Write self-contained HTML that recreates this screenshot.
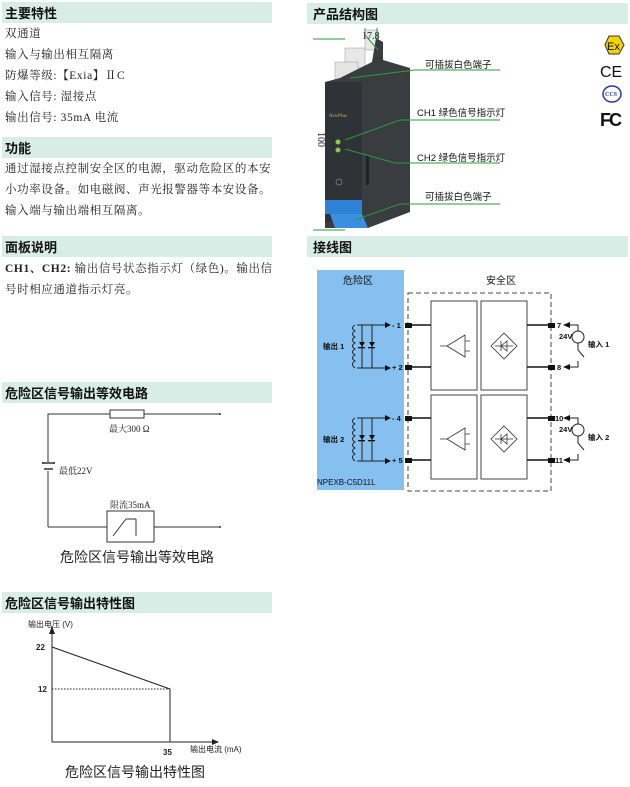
<!DOCTYPE html>
<html><head><meta charset="utf-8"><style>
html,body{margin:0;padding:0;background:#fff;width:630px;height:787px;overflow:hidden}
svg{display:block}
text{font-family:"Liberation Serif","Noto Serif CJK SC",serif;fill:#222}
text.h{font-family:"Liberation Serif","Noto Sans CJK SC",sans-serif;font-weight:bold;font-size:13px;fill:#111}
text.t{font-size:11.5px;letter-spacing:0.6px}
text.s{font-family:"Liberation Sans","Noto Sans CJK SC",sans-serif;font-size:8px;font-weight:bold;fill:#222}
text.c{font-family:"Liberation Sans","Noto Sans CJK SC",sans-serif;font-size:14px;fill:#222}
text.p{font-family:"Liberation Sans","Noto Sans CJK SC",sans-serif;font-size:9.5px;fill:#111}
text.z{font-family:"Liberation Sans","Noto Sans CJK SC",sans-serif;font-size:10px;fill:#111}
text.w{font-family:"Liberation Sans","Noto Sans CJK SC",sans-serif;font-size:7.5px;font-weight:bold;fill:#111}
text.n{font-family:"Liberation Sans",sans-serif;font-size:8px;fill:#111}
</style></head><body>
<svg width="630" height="787" viewBox="0 0 630 787" xmlns="http://www.w3.org/2000/svg">
<g fill="#d9ede7">
<rect x="2" y="2" width="270" height="21"/>
<rect x="2" y="137" width="270" height="21"/>
<rect x="2" y="236" width="270" height="21"/>
<rect x="2" y="382" width="270" height="21"/>
<rect x="2" y="592" width="270" height="21"/>
<rect x="307" y="3" width="321" height="21"/>
<rect x="307" y="236" width="321" height="21"/>
</g>
<text class="h" x="5" y="18">主要特性</text>
<text class="h" x="5" y="153">功能</text>
<text class="h" x="5" y="252">面板说明</text>
<text class="h" x="5" y="398">危险区信号输出等效电路</text>
<text class="h" x="5" y="608">危险区信号输出特性图</text>
<text class="h" x="313" y="19">产品结构图</text>
<text class="h" x="313" y="252">接线图</text>

<text class="t" x="5" y="37">双通道</text>
<text class="t" x="5" y="58">输入与输出相互隔离</text>
<text class="t" x="5" y="79">防爆等级:【Exia】ⅡC</text>
<text class="t" x="5" y="100">输入信号: 湿接点</text>
<text class="t" x="5" y="121">输出信号: 35mA 电流</text>
<text class="t" x="5" y="172">通过湿接点控制安全区的电源，驱动危险区的本安</text>
<text class="t" x="5" y="193">小功率设备。如电磁阀、声光报警器等本安设备。</text>
<text class="t" x="5" y="214">输入端与输出端相互隔离。</text>
<text class="t" x="5" y="272"><tspan font-weight="bold">CH1、CH2:</tspan> 输出信号状态指示灯（绿色)。输出信</text>
<text class="t" x="5" y="293">号时相应通道指示灯亮。</text>

<g stroke="#333" stroke-width="1" fill="none">
<path d="M48 527 V414 H110 M144 414 H220 M48 527 H107 M154 527 H220"/>
<rect x="110" y="410" width="34" height="8"/>
<path d="M42 463 H55 M44 469 H53" stroke-width="1.5"/>
<rect x="107" y="511" width="47" height="31"/>
<path d="M113 536 L126 519 M126 519 H136 M136 519 V536"/>
</g>
<rect x="44" y="462" width="9" height="9" fill="#fff"/>
<path d="M42 463 H55 M44 469 H53" stroke="#333" stroke-width="1.5"/>
<circle cx="220" cy="414" r="1" fill="#333"/><circle cx="220" cy="527" r="1" fill="#333"/>
<text x="109" y="432" style="font-size:9px">最大300 Ω</text>
<text x="59" y="474" style="font-size:9px">最低22V</text>
<text x="110" y="508" style="font-size:9px">限流35mA</text>
<text class="c" x="60" y="562">危险区信号输出等效电路</text>

<g stroke="#222" fill="none">
<path d="M52 742 V632 M52 742 H214"/>
<path d="M52 647 L170 689 V742"/>
<path d="M52 689 H170" stroke-dasharray="1.5,1.5"/>
</g>
<path d="M49 634 L52 626 L55 634Z M212 739 L219 742 L212 745Z" fill="#222"/>
<text class="s" x="28" y="627" style="font-weight:normal">输出电压 (V)</text>
<text class="s" x="36" y="650">22</text>
<text class="s" x="38" y="692">12</text>
<text class="s" x="163" y="755">35</text>
<text class="s" x="190" y="752" style="font-weight:normal">输出电流 (mA)</text>
<text class="c" x="65" y="777">危险区信号输出特性图</text>

<g>
<path d="M365 30 H378 V50 H365Z" fill="#e8e8e8" stroke="#999" stroke-width=".5"/>
<path d="M345 48 H365 V68 H345Z" fill="#e8e8e8" stroke="#999" stroke-width=".5"/>
<path d="M335 62 H358 V85 H335Z" fill="#e4e4e4" stroke="#999" stroke-width=".5"/>
<path d="M376 38 L383 42 V60 L410 68 V212 L368 228 H325 V82 L340 78 L372 62Z" fill="#3a3d40"/>
<path d="M325 82 H362 V222 H325Z" fill="#2f3236"/>
<rect x="325" y="200" width="37" height="14" fill="#2e82d6"/>
<path d="M330 214 H362 L368 228 H335Z" fill="#3b8fe0"/>
<circle cx="338" cy="142" r="2.5" fill="#8ec84a"/><circle cx="338" cy="150" r="2.5" fill="#8ec84a"/>
<text x="329" y="117" style="font-size:5px;fill:#c8b060;font-style:italic">NewPlus</text>
<circle cx="339" cy="182" r="3" fill="none" stroke="#888" stroke-width=".7"/>
<rect x="366" y="155" width="3" height="30" fill="#222"/>
</g>
<g stroke="#2a9a3c" stroke-width="1" fill="none">
<path d="M365 35 L378 50 M350 78 L415 70 H500 M345 140 L400 120 H500 M345 149 L395 163 H500 M355 220 L400 204 H500"/>
<path d="M365 35 V28 M377 40 V28 M313 39 H345 M313 230 H345"/>
</g>
<text x="362" y="39" style="font-size:10px">17.8</text>
<text x="310" y="140" transform="rotate(90 318 140)" style="font-size:10px">100</text>
<text class="p" x="425" y="68">可插拔白色端子</text>
<text class="p" x="417" y="116">CH1 绿色信号指示灯</text>
<text class="p" x="417" y="161">CH2 绿色信号指示灯</text>
<text class="p" x="425" y="200">可插拔白色端子</text>

<polygon points="605,45 609,36 619,36 624,45 619,54 609,54" fill="#f2d400" stroke="#333" stroke-width="1"/>
<text x="607" y="50" style="font-family:'Liberation Sans',sans-serif;font-size:11px;fill:#111">Ex</text>
<text x="600" y="77" style="font-family:'Liberation Sans',sans-serif;font-size:16px;fill:#111">CE</text>
<ellipse cx="612" cy="94" rx="9" ry="8" fill="none" stroke="#2a3a9a" stroke-width="1.5"/>
<text x="605" y="96" style="font-size:6px;fill:#2a3a9a;font-weight:bold">CCS</text>
<text x="600" y="126" style="font-family:'Liberation Sans',sans-serif;font-size:18px;font-weight:bold;fill:#111;letter-spacing:-2px">FC</text>

<rect x="317" y="270" width="87" height="220" fill="#86c0f0"/>
<text class="z" x="343" y="284">危险区</text>
<text class="z" x="486" y="284">安全区</text>
<rect x="408" y="293" width="143" height="198" fill="none" stroke="#444" stroke-dasharray="5,3"/>
<g fill="#fff" stroke="#444">
<rect x="431" y="301" width="46" height="89"/><rect x="481" y="301" width="46" height="89"/>
<rect x="431" y="395" width="46" height="84"/><rect x="481" y="395" width="46" height="84"/>
</g>
<g stroke="#111" stroke-width="1.5" fill="none">
<path d="M408 325 H431 M408 367 H431 M408 418 H431 M408 460 H431"/>
<path d="M527 325 H551 M527 367 H551 M527 418 H551 M527 460 H551"/>
</g>
<g fill="#111">
<rect x="405" y="323" width="7" height="5"/><rect x="405" y="365" width="7" height="5"/>
<rect x="405" y="416" width="7" height="5"/><rect x="405" y="458" width="7" height="5"/>
<rect x="548" y="323" width="7" height="5"/><rect x="548" y="365" width="7" height="5"/>
<rect x="548" y="416" width="7" height="5"/><rect x="548" y="458" width="7" height="5"/>
</g>
<g id="amp" stroke="#333" fill="none" stroke-width=".8">
<path d="M440 346 H447 L465 335 V357 L447 346 M465 341 H470 M465 351 H470"/>
<path d="M504 333 L517 346 L504 359 L491 346Z M495 346 H513 M501 341 V351 M501 346 L507 341 V351Z"/>
</g>
<use href="#amp" transform="translate(0,93)"/>
<g id="haz" stroke="#222" stroke-width="1" fill="none">
<path d="M357 325 H386 M357 368 H386"/>
<path d="M355 325 q-5 3 0 6 q-5 3 0 6 q-5 3 0 6 q-5 3 0 6 q-5 3 0 6 q-5 3 0 6 q-5 3 0 7"/>
<path d="M362 325 V368 M372 325 V368"/>
</g>
<g id="hazf" fill="#111">
<path d="M359 342 H365 L362 347Z M369 342 H375 L372 347Z"/>
<rect x="358" y="347" width="7" height="1.3"/><rect x="368" y="347" width="7" height="1.3"/>
<path d="M385 322 L391 325 L385 328Z M385 365 L391 368 L385 371Z"/>
</g>
<use href="#haz" transform="translate(0,93)"/><use href="#hazf" transform="translate(0,93)"/>
<text class="w" x="323" y="349">输出 1</text><text class="w" x="323" y="442">输出 2</text>
<text class="w" x="392" y="328">-  1</text><text class="w" x="392" y="370">+  2</text>
<text class="w" x="392" y="421">-  4</text><text class="w" x="392" y="463">+  5</text>
<text class="w" x="557" y="328">7</text><text class="w" x="557" y="370">8</text>
<text class="w" x="555" y="421">10</text><text class="w" x="555" y="463">11</text>
<text class="w" x="559" y="339">24V</text><text class="w" x="559" y="432">24V</text>
<text class="w" x="588" y="347">输入 1</text><text class="w" x="588" y="440">输入 2</text>
<text class="n" x="317" y="485">NPEXB-C5D11L</text>
<g id="sw" stroke="#222" fill="none" stroke-width="1">
<path d="M568 325 H578 V331 M578 343 V350 L584 357 M578 361 V367 H568"/>
<circle cx="578" cy="337" r="6"/>
</g>
<path d="M570 322 L563 325 L570 328Z M570 364 L563 367 L570 370Z" fill="#111"/>
<use href="#sw" transform="translate(0,93)"/>
<path d="M570 415 L563 418 L570 421Z M570 457 L563 460 L570 463Z" fill="#111"/>
</svg>
</body></html>
